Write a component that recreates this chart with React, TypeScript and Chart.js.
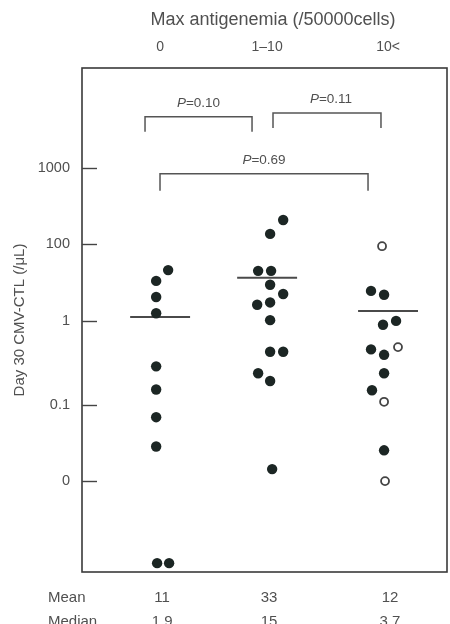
import { useEffect, useRef } from 'react';
import { Chart, registerables } from 'chart.js';
Chart.register(...registerables);

const FONT = '"Liberation Sans", Arial, Helvetica, sans-serif';
const TEXT = '#505050';
const LINE = '#444';

// Category axis (top)
const CATEGORIES = ['0', '1–10', '10<'];
const CAT_X = [0.73, 1.73, 2.86];
const X_TITLE = 'Max antigenemia (/50000cells)';

// Y axis: tick positions (axis levels) and their printed labels
const TICK_LEVELS = [0, 0.99, 2.08, 3.08, 4.07];
const TICK_LABELS = ['0', '0.1', '1', '100', '1000'];

// Group "0" (filled)
const G1_LEVELS = [2.74, 2.6, 2.39, 2.18, 1.49, 1.19, 0.83, 0.45, -1.065, -1.065];
const G1_JITTER = [0.075, -0.037, -0.037, -0.037, -0.037, -0.037, -0.037, -0.037, -0.028, 0.084];

// Group "1–10" (filled)
const G2_LEVELS = [3.39, 3.21, 2.73, 2.73, 2.55, 2.43, 2.32, 2.29, 2.09, 1.68, 1.68, 1.4, 1.3, 0.156];
const G2_JITTER = [0.15, 0.028, -0.084, 0.037, 0.028, 0.15, 0.028, -0.093, 0.028, 0.028, 0.15, -0.084, 0.028, 0.047];

// Group "10<" filled and open
const G3_LEVELS = [2.47, 2.42, 2.03, 2.08, 1.71, 1.64, 1.4, 1.18, 0.4];
const G3_JITTER = [-0.159, -0.037, -0.047, 0.075, -0.159, -0.037, -0.037, -0.15, -0.037];
const G3_OPEN_LEVELS = [3.05, 1.74, 1.03, 0.0];
const G3_OPEN_JITTER = [-0.056, 0.093, -0.037, -0.028];

// Horizontal bars per group
const BAR_LEVELS = [2.13, 2.64, 2.21];
const BAR_HALF = 0.28;

// Comparisons
const P_LABELS = ['0.10', '0.11', '0.69'];
const P_X1 = [0.589, 1.785, 0.729];
const P_X2 = [1.589, 2.794, 2.673];
const P_Y = [4.73, 4.78, 3.99];

// Summary rows
const MEAN_VALUES = ['11', '33', '12'];
const MEDIAN_VALUES = ['1.9', '15', '3.7'];

const pts = (levels: number[], jitter: number[], g: number) =>
  levels.map((v, i) => ({ x: CAT_X[g] + jitter[i], y: v }));

const decorPlugin = {
  id: 'decor',
  afterDraw(chart: any) {
    const { ctx, chartArea: a, scales } = chart;
    const xs = scales.x;
    const ys = scales.y;
    ctx.save();
    // top title
    ctx.fillStyle = TEXT;
    ctx.font = `18px ${FONT}`;
    ctx.textAlign = 'center';
    ctx.textBaseline = 'middle';
    ctx.fillText(X_TITLE, 273, 20);
    // frame
    ctx.strokeStyle = '#3a3a3a';
    ctx.lineWidth = 1.6;
    ctx.strokeRect(a.left, a.top, a.right - a.left, a.bottom - a.top);
    // inward ticks
    ctx.strokeStyle = LINE;
    ctx.lineWidth = 1.4;
    TICK_LEVELS.forEach((v) => {
      const py = Math.round(ys.getPixelForValue(v)) + 0.5;
      ctx.beginPath();
      ctx.moveTo(a.left, py);
      ctx.lineTo(a.left + 15, py);
      ctx.stroke();
    });
    // brackets
    ctx.strokeStyle = '#555';
    ctx.lineWidth = 1.5;
    P_LABELS.forEach((lab, i) => {
      const x1 = xs.getPixelForValue(P_X1[i]);
      const x2 = xs.getPixelForValue(P_X2[i]);
      const y = ys.getPixelForValue(P_Y[i]);
      const drop = i === 2 ? 17 : 15;
      ctx.beginPath();
      ctx.moveTo(x1, y + drop);
      ctx.lineTo(x1, y);
      ctx.lineTo(x2, y);
      ctx.lineTo(x2, y + drop);
      ctx.stroke();
      const cx = (x1 + x2) / 2 + (i === 1 ? 4 : 0);
      const ty = y - 14;
      ctx.fillStyle = TEXT;
      ctx.textBaseline = 'middle';
      ctx.font = `italic 13.5px ${FONT}`;
      const pW = ctx.measureText('P').width;
      ctx.font = `13.5px ${FONT}`;
      const rest = '=' + lab;
      const rW = ctx.measureText(rest).width;
      const start = cx - (pW + rW) / 2;
      ctx.textAlign = 'left';
      ctx.font = `italic 13.5px ${FONT}`;
      ctx.fillText('P', start, ty);
      ctx.font = `13.5px ${FONT}`;
      ctx.fillText(rest, start + pW, ty);
    });
    // summary rows
    ctx.fillStyle = TEXT;
    ctx.font = `15px ${FONT}`;
    ctx.textBaseline = 'middle';
    ctx.textAlign = 'left';
    ctx.fillText('Mean', 48, 598);
    ctx.fillText('Median', 48, 622);
    ctx.textAlign = 'center';
    CAT_X.forEach((cx, i) => {
      const px = xs.getPixelForValue(cx) + 2;
      ctx.fillText(MEAN_VALUES[i], px, 598);
      ctx.fillText(MEDIAN_VALUES[i], px, 622);
    });
    ctx.restore();
  },
};

export default function App() {
  const ref = useRef<HTMLCanvasElement | null>(null);
  useEffect(() => {
    document.body.style.margin = '0';
    if (!ref.current) return;
    const filled = {
      pointRadius: 5.2,
      pointHoverRadius: 5.2,
      pointBackgroundColor: '#1c2624',
      pointBorderColor: '#1c2624',
      pointBorderWidth: 0,
      showLine: false,
    };
    const barSets = BAR_LEVELS.map((v, g) => ({
      type: 'line' as const,
      data: [
        { x: CAT_X[g] - BAR_HALF, y: v },
        { x: CAT_X[g] + BAR_HALF, y: v },
      ],
      borderColor: '#4a4a4a',
      borderWidth: 2,
      pointRadius: 0,
      showLine: true,
      fill: false,
    }));
    const chart = new Chart(ref.current, {
      type: 'scatter',
      data: {
        datasets: [
          { data: pts(G1_LEVELS, G1_JITTER, 0), ...filled },
          { data: pts(G2_LEVELS, G2_JITTER, 1), ...filled },
          { data: pts(G3_LEVELS, G3_JITTER, 2), ...filled },
          {
            data: pts(G3_OPEN_LEVELS, G3_OPEN_JITTER, 2),
            pointRadius: 4,
            pointBackgroundColor: '#fff',
            pointBorderColor: '#444',
            pointBorderWidth: 1.8,
            showLine: false,
          },
          ...barSets,
        ] as any,
      },
      options: {
        animation: false,
        responsive: false,
        layout: { autoPadding: false, padding: { left: 0, right: 3, top: 0, bottom: 52 } },
        plugins: { legend: { display: false }, tooltip: { enabled: false } },
        scales: {
          x: {
            type: 'linear',
            position: 'top',
            min: 0,
            max: 3.411,
            afterBuildTicks: (s: any) => {
              s.ticks = CAT_X.map((v) => ({ value: v }));
            },
            afterFit: (s: any) => {
              s.height = 68;
              s.paddingRight = 0;
              s.paddingLeft = 0;
            },
            ticks: {
              callback: (v: any) => CATEGORIES[CAT_X.indexOf(v)] ?? '',
              color: TEXT,
              font: { size: 14, family: FONT },
              padding: 12,
              maxRotation: 0,
              autoSkip: false,
            },
            grid: { display: false, drawTicks: false },
            border: { display: false },
          },
          y: {
            type: 'linear',
            min: -1.18,
            max: 5.364,
            afterBuildTicks: (s: any) => {
              s.ticks = TICK_LEVELS.map((v) => ({ value: v }));
            },
            afterFit: (s: any) => {
              s.width = 82;
            },
            ticks: {
              callback: (v: any) => TICK_LABELS[TICK_LEVELS.indexOf(v)] ?? '',
              color: TEXT,
              font: { size: 14.5, family: FONT },
              padding: 12,
              autoSkip: false,
            },
            grid: { display: false, drawTicks: false },
            border: { display: false },
            title: {
              display: true,
              text: 'Day 30 CMV-CTL (/μL)',
              color: TEXT,
              font: { size: 15, family: FONT },
              padding: { top: 11, bottom: 0 },
            },
          },
        },
      },
      plugins: [decorPlugin],
    });
    return () => chart.destroy();
  }, []);
  return (
    <div style={{ width: 450, height: 624, background: '#fff' }}>
      <canvas ref={ref} width={450} height={624} />
    </div>
  );
}
